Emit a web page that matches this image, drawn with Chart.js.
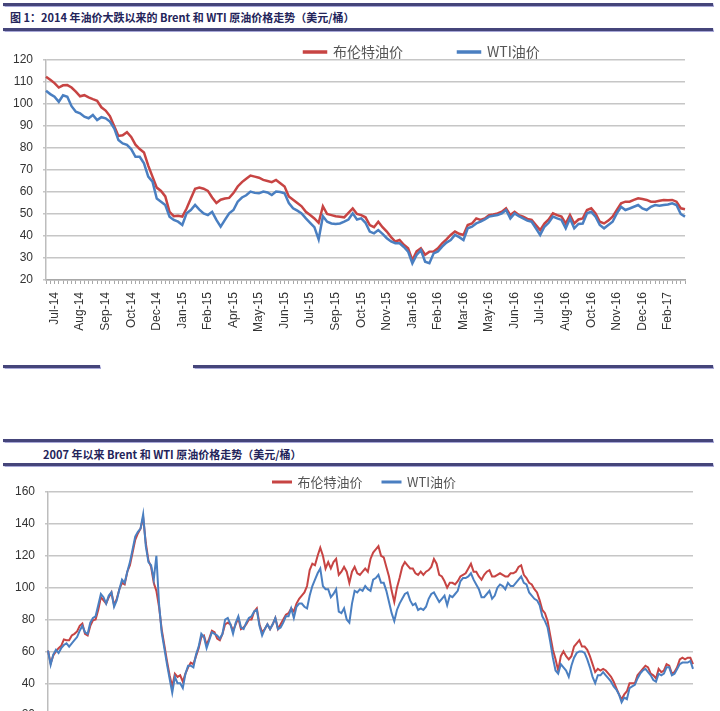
<!DOCTYPE html>
<html><head><meta charset="utf-8">
<script src="https://cdn.jsdelivr.net/npm/chart.js@4.4.1/dist/chart.umd.min.js"></script>
<style>
html,body{margin:0;padding:0;background:#fff;width:720px;height:711px;overflow:hidden;position:relative;font-family:"Noto Sans CJK SC",sans-serif;}
.rule{position:absolute;height:3px;background:#45457a;box-shadow:0 0 1px 0.5px #a8a8d8;}
.title{position:absolute;font-size:11px;font-weight:bold;color:#24245a;white-space:nowrap;line-height:14px;}
#c1{position:absolute;left:0;top:26px;}
#c2{position:absolute;left:0;top:459px;}
</style></head><body>
<div class="rule" style="left:3px;top:3px;width:710px"></div>
<div class="title" style="left:10px;top:10px">图 1：2014 年油价大跌以来的 Brent 和 WTI 原油价格走势（美元/桶）</div>
<div class="rule" style="left:3px;top:28px;width:710px"></div>
<div class="rule" style="left:3px;top:365px;width:97px"></div>
<div class="rule" style="left:193px;top:365px;width:520px"></div>
<div class="rule" style="left:3px;top:439px;width:710px"></div>
<div class="title" style="left:43px;top:447px">2007 年以来 Brent 和 WTI 原油价格走势（美元/桶）</div>
<div class="rule" style="left:3px;top:463px;width:710px"></div>
<canvas id="c1" width="720" height="311"></canvas>
<canvas id="c2" width="720" height="328"></canvas>
<script>
// ---------- Chart 1: since Jul 2014 (approx. weekly points) ----------
const seriesNames = ['布伦特油价', 'WTI油价'];
const tickLabels1 = ['Jul-14','Aug-14','Sep-14','Oct-14','Dec-14','Jan-15','Feb-15','Apr-15','May-15','Jun-15',
  'Jul-15','Sep-15','Oct-15','Nov-15','Jan-16','Feb-16','Mar-16','May-16','Jun-16','Jul-16',
  'Aug-16','Oct-16','Nov-16','Dec-16','Feb-17'];
const brent1 = [112.4,111,109.5,107.5,108.5,108.6,107.5,105.6,103.5,104,
  103,102.2,101.5,98.5,97,94.5,90,85.5,85.8,87.2,
  85,81.5,79.5,78,72,67,62,60.5,58,51,
  49,49.2,48.8,52.5,57,61.5,62,61.5,60.5,57.5,
  55,56.5,57,57.3,59.5,62.5,64.5,66,67.5,67,
  66.5,65.5,65,64.5,65.5,64,62.5,58,56.5,55,
  53.5,51,49.5,48,46,53.5,50,49.5,49,48.8,
  48.5,50.5,52.5,50,49.5,48.5,45,44,46.5,44,
  42,39.5,37.5,38.2,36,34.4,29,33,34.4,31.5,
  32.9,33,34.4,36.7,38.5,40.5,42,41,40.5,45,
  45.7,48,47.3,48,49.5,49.8,50.3,51,52.6,49.5,
  51,49.5,48.8,47.8,47.3,45,42.7,45.7,47.5,50.3,
  49.5,48.8,45.7,49.5,45.7,47.5,48,51.8,52.6,50.3,
  46.5,45.7,47,48.8,51.8,54.9,55.6,55.6,56.4,57.1,
  56.8,56.4,55.6,55.6,56,56.4,56.2,56.4,55.6,52.6,
  52.2];
const wti1 = [106,104.5,103.3,101,104,103.3,99,96.5,95.8,94.2,
  93.5,95,92.7,94,93.5,92,89,83.6,82.1,81.4,
  79.5,76,76,73,67,64.7,57,55.6,54.1,48.8,
  47.3,46.5,45,50.3,51.8,54.1,52,50.3,49.5,51,
  47.3,44.2,47.3,50.3,51.8,55.6,57.5,58.5,60.2,59.6,
  59.4,60.2,59.8,58.6,60.2,60,59.4,55,52.6,51.5,
  50.3,48,46,44,38.5,49,46.5,45.7,45.5,45.7,
  46.5,47.5,50.3,47.5,48,46,42,41.2,42.7,41,
  39,37.5,36.7,36.7,35,32.9,27.6,31.4,33.6,28.3,
  27.6,32.1,33,35.2,37,38.2,40.5,39.5,38.2,43.5,
  44.2,45.7,46.5,47.5,48.8,49.2,49.5,50.3,51.8,48,
  50.3,49,48,47,46.5,43.5,40.5,44.2,46,48.8,
  48,47.3,43.5,48,43.5,45.5,45.7,50.3,51,48.8,
  45,43.5,45,46.5,50.3,53.3,51.8,52.5,53.3,54.1,
  52.5,51.8,53.3,54.1,53.8,54.1,54.3,54.9,54.1,50,
  48.8];
const firstLabelIndex1 = 2, labelEvery1 = 6;

// ---------- Chart 2: since 2007 (two points per month) ----------
const years2 = ['07','08','09','10','11','12','13','14','15','16','17'];
const months2 = ['Jan','Feb','Mar','Apr','May','Jun','Jul','Aug','Sep','Oct','Nov','Dec'];
const brent2 = [
  60.5,52.5,57.5,60,62,63.5,67.5,67,67,70,71,72.5,76,77.5,71,70,76,79.5,80,86,94,92,90,94,
  97,89,93,99,103,102,110,114,122,130,134,137,144,128,117,113,103,98,88,74,64,54,45,38,
  46,44,45,41,46,50,53,52,57,62,69,70,64,68,73,72,68,67,71,77,78,77,73,77,
  81,74,75,77,80,80,85,87,77,72,74,77,74,77,81,74,77,80,83,84,87,85,90,93,
  95,97,101,111,115,114,120,125,120,112,116,112,116,118,108,110,113,110,103,110,113,109,108,110,
  112,110,118,122,124,126,120,119,113,107,98,91,100,106,113,116,114,112,112,109,108,110,108,110,
  111,113,118,115,108,107,104,100,103,103,102,104,107,108,109,112,115,110,110,107,105,108,110,111,
  107,107,108,109,108,107,107,109,109,110,113,114,108,106,103,102,99,97,92,86,84,79,70,61,
  55,48,57,60,57,55,57,63,65,67,63,63,61,57,52,47,49,48,49,48,46,44,41,37,
  33,30,33,35,40,40,40,45,47,49,51,50,46,45,43,49,47,48,52,51,46,47,50,55,
  56,55,56,56,52];
const wti2 = [
  60.5,51.5,58,61,59,62,64,65,63,65,67,69,73,76,72,71,78,81,82,89,96,94,90,95,
  97,88,92,99,105,103,110,116,124,132,135,137,146,126,116,114,105,120,90,72,62,52,43,34,
  44,40,40,37,46,51,51,50,58,63,71,69,62,67,72,71,70,68,71,80,81,77,71,78,
  82,75,74,78,81,82,85,86,76,70,74,77,74,77,81,74,75,78,82,82,87,81,88,90,
  90,88,87,95,101,105,109,112,101,99,99,94,96,99,85,84,87,80,78,90,98,97,99,98,
  101,99,98,105,106,108,103,103,98,91,84,79,86,90,93,96,97,92,89,90,86,87,86,88,
  93,96,97,94,91,93,95,89,95,94,96,98,104,106,106,107,109,105,102,99,94,94,96,98,
  93,95,100,102,101,99,103,101,101,103,105,107,103,102,97,95,93,92,89,82,79,75,66,56,
  48,46,52,50,48,44,51,56,59,60,60,59,55,50,44,40,45,45,47,45,43,41,38,36,
  33,28,31,30,37,38,39,43,46,48,49,47,45,42,41,46,45,46,50,50,45,46,49,52,
  53,53,53,54,49];

const RED = '#c74443', BLUE = '#4a7fc1';

const cats1 = brent1.map((_, i) => {
  const k = (i - firstLabelIndex1) / labelEvery1;
  return (Number.isInteger(k) && k >= 0 && k < tickLabels1.length) ? tickLabels1[k] : '';
});
const cats2 = brent2.map((_, i) => {
  const m = Math.floor(i / 2);
  return months2[m % 12] + '-' + years2[Math.floor(m / 12)];
});

const legendPlace = {
  id: 'legendPlace',
  afterLayout(chart, args, opts) {
    const lg = chart.legend;
    if (!lg || !lg.lineWidths) return;
    const pad = lg.options.labels.padding;
    const fs = lg.options.labels.font.size;
    const lw = lg.lineWidths[0];
    lg.left = opts.x - pad;
    lg.right = opts.x + lw + 2;
    lg.top = opts.y - pad - fs / 2;
    lg.bottom = opts.y + fs;
  }
};
Chart.register(legendPlace);

const tickFont = { family: 'Liberation Sans', size: 12 };

function makeChart(id, cats, b, w, cfg) {
  return new Chart(document.getElementById(id), {
    type: 'line',
    data: {
      labels: cats,
      datasets: [
        { label: seriesNames[0], data: b, borderColor: RED, backgroundColor: RED, borderWidth: cfg.lw, pointRadius: 0, tension: 0, order: 1 },
        { label: seriesNames[1], data: w, borderColor: BLUE, backgroundColor: BLUE, borderWidth: cfg.lw, pointRadius: 0, tension: 0, order: 0 }
      ]
    },
    options: {
      responsive: false,
      animation: false,
      events: [],
      layout: { padding: { left: 0, right: cfg.padRight, top: 0, bottom: 0 } },
      plugins: {
        tooltip: { enabled: false },
        legendPlace: { x: cfg.legX, y: cfg.legY },
        legend: {
          position: 'top',
          maxHeight: cfg.legH,
          labels: {
            boxWidth: cfg.boxW, boxHeight: 1, padding: cfg.legPad, color: '#555',
            font: { family: 'Noto Sans CJK SC', size: cfg.legFont },
            sort: (a, c) => a.datasetIndex - c.datasetIndex
          }
        }
      },
      scales: {
        x: {
          type: 'category',
          offset: false,
          grid: { display: true, drawOnChartArea: false, drawTicks: true, tickLength: 4, color: '#a8a8a8', lineWidth: 1 },
          border: { display: true, color: '#a8a8a8', width: 1.5 },
          ticks: cfg.xTicks,
          afterFit: s => { s.height = cfg.xH; }
        },
        y: {
          min: cfg.ymin, max: cfg.ymax,
          ticks: { stepSize: cfg.step, padding: 10, color: '#333', font: tickFont },
          grid: { color: '#c6c6c6', lineWidth: 1.5, tickLength: 3, drawTicks: true },
          border: { display: true, color: '#bdbdbd', width: 1.5 },
          afterFit: s => { s.width = cfg.yW; }
        }
      }
    }
  });
}

makeChart('c1', cats1, brent1, wti1, {
  lw: 2.5, padRight: 35, legX: 303, legY: 26, legH: 34, boxW: 22, legPad: 55, legFont: 14,
  xTicks: { autoSkip: false, maxRotation: 90, minRotation: 90, padding: 8, color: '#333', font: tickFont },
  xH: 57, ymin: 20, ymax: 120, step: 10, yW: 46
});

makeChart('c2', cats2, brent2, wti2, {
  lw: 2, padRight: 27, legX: 272, legY: 23, legH: 33, boxW: 18, legPad: 20, legFont: 13,
  xTicks: { autoSkip: true, maxRotation: 0, minRotation: 0, padding: 8, color: '#333', font: tickFont },
  xH: 40, ymin: 0, ymax: 160, step: 20, yW: 48
});
</script>
</body></html>
